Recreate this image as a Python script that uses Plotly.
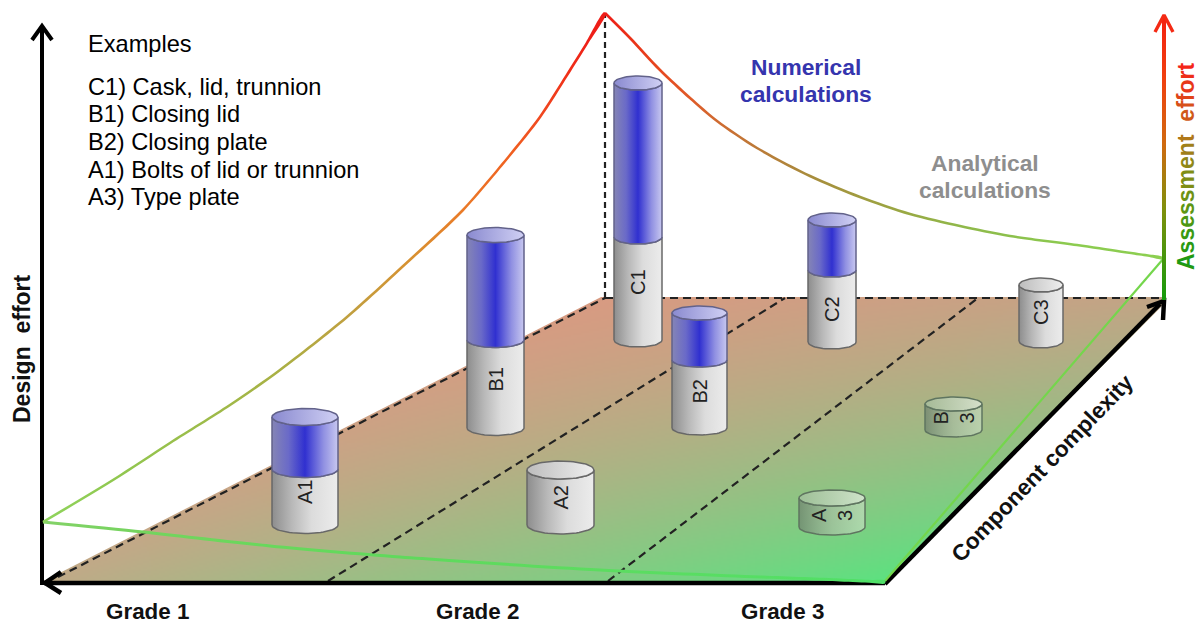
import numpy as np
import plotly.graph_objects as go

# ---- diagram content (in the picture's own units) ----
example_lines = ["Examples", "C1) Cask, lid, trunnion", "B1) Closing lid", "B2) Closing plate",
                 "A1) Bolts of lid or trunnion", "A3) Type plate"]
example_y = [44, 87, 114, 142, 170, 197]

grade_labels = ["Grade 1", "Grade 2", "Grade 3"]
grade_x = [147, 477, 782]

cyl_names = ["A1", "B1", "C1", "B2", "C2", "C3", "A2", "A<br>3", "B<br>3"]
cyl_left = [272, 467, 614, 672, 808, 1019, 527, 799, 925]
cyl_right = [338, 524, 662, 727, 856, 1063, 594, 865, 982]
cyl_top = [417, 235, 83, 313, 220, 285, 470, 498, 404]
cyl_split = [469, 340, 237, 360, 270, None, None, None, None]
cyl_bottom = [525, 428, 340, 428, 342, 341, 525, 527, 430]
cyl_ry = [8.5, 7.5, 7, 7, 7, 7, 9, 8, 7]
cyl_label_y = [492, 380, 282, 392, 309, 312, 498, 515, 418]
cyl_glass = [False, False, False, False, False, False, False, True, True]

design_x = [43, 113, 170, 230, 280, 347, 413, 463, 510, 540, 567, 587, 605]
design_y = [522, 480, 443, 405, 370, 317, 257, 210, 155, 117, 75, 43, 13]
design_c = ["#8fd45c", "#90c850", "#98c04c", "#a0b848", "#aab044", "#c0a040", "#d89030",
            "#ea7a28", "#f06020", "#f04820", "#f03018", "#ee2018", "#ee1c18"]

assess_x = [605, 630, 660, 690, 717, 757, 810, 860, 910, 960, 1010, 1077, 1120, 1148, 1162]
assess_y = [13, 38, 70, 98, 121, 148, 176, 197, 214, 226, 236, 245, 251.5, 255.5, 258]
assess_c = ["#ee1c18", "#ea3018", "#e64820", "#e05a28", "#d06a30", "#bc7a38", "#a88c3c",
            "#a09c40", "#98aa44", "#90b84a", "#8cc04c", "#8ccc50", "#8ccc50", "#8ccf50", "#8ccf50"]

base_x = [43, 143, 270, 400, 600, 760, 840, 872, 885]
base_y = [522, 532, 546, 557, 570, 577, 580, 581.5, 582]
base_c = ["#84d268", "#74d45e", "#68d85c", "#60d95c", "#5cdc60", "#56de64", "#52df66", "#50e068", "#50e068"]

assessment_text = "Assessment\u00a0\u00a0effort"
assessment_c = ["#1f9a12", "#2a9a12", "#3a9a12", "#4c9812", "#5e9612", "#6e9214", "#7f8e14", "#908816",
                "#a08018", "#b07818", "#bc7018", "#c86a18", "#d05a18", "#d85018", "#e04418", "#e83818",
                "#ee2e18", "#f42618"]

fig = go.Figure()

def line(xs, ys, color, width=2, dash=None):
    fig.add_trace(go.Scatter(x=xs, y=ys, mode="lines", hoverinfo="skip", showlegend=False,
                             line=dict(color=color, width=width, dash=dash)))

def ribbon(xs, ys, colors, width):
    """Smooth curve with a colour change along x: a thin spline-edged shape with a horizontal gradient."""
    xs, ys = np.array(xs, float), np.array(ys, float)
    dx, dy = np.gradient(xs), np.gradient(ys)
    n = np.hypot(dx, dy)
    ox, oy = -dy / n * width / 2, dx / n * width / 2
    px = np.r_[xs + ox, (xs - ox)[::-1]]
    py = np.r_[ys + oy, (ys - oy)[::-1]]
    stops = [[float((x - xs[0]) / (xs[-1] - xs[0])), c] for x, c in zip(xs, colors)]
    fig.add_trace(go.Scatter(x=px, y=py, mode="lines", fill="toself", line=dict(width=0, shape="spline", smoothing=0.8),
                             hoverinfo="skip", showlegend=False,
                             fillgradient=dict(type="horizontal", colorscale=stops)))

# ---- floor: bilinear colour wash clipped to the parallelogram by white masks ----
L, R, B, Q = (np.array(c, float) for c in ((192, 170, 136), (92, 226, 128), (216, 155, 130), (182, 170, 136)))
step = 2
gx = np.arange(42, 1166, step)
gy = np.arange(298, 584, step)
X, Y = np.meshgrid(gx, gy)
v = (583 - Y) / 285.0
u = np.clip((X - (42 + v * 563)) / 843.0, 0, 1)
u, v = u[..., None], v[..., None]
rgb = (1 - u) * (1 - v) * L + u * (1 - v) * R + (1 - u) * v * B + u * v * Q
fig.add_trace(go.Image(z=rgb.astype(int).tolist(), x0=42, y0=298, dx=step, dy=step, colormodel="rgb", hoverinfo="skip"))
for px, py in (([38, 38, 607, 38], [294, 584, 294, 294]), ([885, 1170, 1170, 885], [584, 584, 298, 584]),
               ([38, 1170, 1170, 38, 38], [584, 584, 590, 590, 584])):
    fig.add_trace(go.Scatter(x=px, y=py, mode="lines", fill="toself", fillcolor="white", line=dict(width=0),
                             hoverinfo="skip", showlegend=False))

# ---- dashed floor and height guides ----
dash_pat = "8px,5px"
line([58, 605], [577, 298], "#222", 2.2, dash_pat)
line([605, 1163], [298, 298], "#222", 2.2, dash_pat)
line([328, 785], [581, 298], "#222", 2.2, dash_pat)
line([608, 978], [581, 298], "#222", 2.2, dash_pat)
line([605, 605], [298, 13], "#222", 2.2, "6px,4px")

# ---- axes ----
line([42, 42], [585, 26], "black", 4)
line([32, 42, 52], [40, 26, 40], "black", 4)
line([885, 44], [583, 583], "black", 4.5)
line([61, 45, 61], [572, 583, 593], "black", 4.5)
line([885, 1160], [584, 304], "black", 4.5)
line([1147, 1164, 1163], [307, 301, 320], "black", 4.5)

# ---- effort curves ----
line([885, 1164], [581, 258], "#74d64c", 2.2)
ribbon(base_x, base_y, base_c, 3)
ribbon(design_x, design_y, design_c, 2.6)
ribbon(assess_x, assess_y, assess_c, 2.6)

# ---- assessment arrow ----
arrow_scale = [[0, "#149a0c"], [0.32, "#80900c"], [0.55, "#d06a10"], [0.78, "#f04010"], [1, "#f42010"]]
fig.add_trace(go.Scatter(x=[1162, 1166, 1166, 1162, 1162], y=[16, 16, 300, 300, 16], mode="lines", fill="toself",
                         line=dict(width=0), hoverinfo="skip", showlegend=False,
                         fillgradient=dict(type="vertical", colorscale=arrow_scale)))
line([1155, 1164, 1173], [32, 15, 32], "#f42a14", 3.4)

# ---- cylinders ----
GRAY = [[0, "#8d8d8d"], [0.3, "#b8b8b8"], [0.6, "#dcdcdc"], [1, "#ececec"]]
GRAYTOP = [[0, "#bdbdbd"], [1, "#efefef"]]
BLUE = [[0, "#8585b5"], [0.25, "#6a6ac8"], [0.5, "#3030d0"], [0.78, "#9090e2"], [1, "#c8c8f0"]]
BLUETOP = [[0, "#8a8ad0"], [1, "#d0d0f4"]]
GLASS = [[0, "rgba(110,130,110,0.75)"], [0.5, "rgba(170,190,165,0.65)"], [1, "rgba(205,225,200,0.6)"]]
GLASSTOP = [[0, "rgba(165,190,160,0.7)"], [1, "rgba(225,235,220,0.8)"]]
EDGE = "#686868"
BLUEEDGE = "#62628a"
t = np.linspace(0, np.pi, 33)

def body(x0, x1, y0, y1, ry, scale, edge):
    cx, rx = (x0 + x1) / 2, (x1 - x0) / 2
    bx = cx - rx * np.cos(t)
    by = y1 + ry * np.sin(t)
    topx = cx + rx * np.cos(t)
    topy = y0 + ry * np.sin(t)
    xs = np.r_[bx, topx, bx[0]]
    ys = np.r_[by, topy, by[0]]
    fig.add_trace(go.Scatter(x=xs, y=ys, mode="lines", fill="toself", line=dict(color=edge, width=1.5),
                             hoverinfo="skip", showlegend=False, fillgradient=dict(type="horizontal", colorscale=scale)))

def cap(x0, x1, y, ry, scale, edge):
    cx, rx = (x0 + x1) / 2, (x1 - x0) / 2
    a = np.linspace(0, 2 * np.pi, 65)
    fig.add_trace(go.Scatter(x=cx + rx * np.cos(a), y=y + ry * np.sin(a), mode="lines", fill="toself",
                             line=dict(color=edge, width=1.5), hoverinfo="skip", showlegend=False,
                             fillgradient=dict(type="horizontal", colorscale=scale)))

for i in range(len(cyl_names)):
    x0, x1, top, split, bot, ry = cyl_left[i], cyl_right[i], cyl_top[i], cyl_split[i], cyl_bottom[i], cyl_ry[i]
    if cyl_glass[i]:
        body(x0, x1, top, bot, ry, GLASS, "#5f7560")
        cap(x0, x1, top, ry, GLASSTOP, "#5f7560")
    elif split is None:
        body(x0, x1, top, bot, ry, GRAY, EDGE)
        cap(x0, x1, top, ry, GRAYTOP, EDGE)
    else:
        body(x0, x1, split, bot, ry, GRAY, EDGE)
        body(x0, x1, top, split, ry, BLUE, BLUEEDGE)
        cap(x0, x1, top, ry, BLUETOP, BLUEEDGE)

# ---- texts ----
def note(x, y, text, size, color="black", bold=False, angle=0, anchor="center"):
    fig.add_annotation(x=x, y=y, xref="x", yref="y", text=f"<b>{text}</b>" if bold else text, showarrow=False,
                       textangle=angle, xanchor=anchor, yanchor="middle",
                       font=dict(family="Liberation Sans", size=size, color=color), align="center")

for s, y in zip(example_lines, example_y):
    note(86, y, s, 23.6, anchor="left")
for s, x in zip(grade_labels, grade_x):
    note(x, 611.5, s, 22.4, color="#111", bold=True)
for i, name in enumerate(cyl_names):
    note((cyl_left[i] + cyl_right[i]) / 2, cyl_label_y[i], name, 20, color="#222", angle=-90)
note(806, 67, "Numerical", 22.8, color="#3535ae", bold=True)
note(806, 94, "calculations", 22.8, color="#3535ae", bold=True)
note(985, 163, "Analytical", 22.8, color="#8e8e8e", bold=True)
note(985, 190, "calculations", 22.8, color="#8e8e8e", bold=True)
note(22, 349, "Design\u00a0\u00a0effort", 23, color="#111", bold=True, angle=-90)
note(1042, 468, "Component complexity", 22.6, color="#111", bold=True, angle=-46)
spans = "".join(f'<span style="color:{c}">{ch}</span>' for ch, c in zip(assessment_text, assessment_c))
note(1186, 166, spans, 23, bold=True, angle=-90)

fig.update_layout(width=1200, height=625, margin=dict(l=0, r=0, t=0, b=0), paper_bgcolor="white",
                  plot_bgcolor="white", showlegend=False,
                  xaxis=dict(range=[0, 1200], visible=False, fixedrange=True),
                  yaxis=dict(range=[625, 0], visible=False, fixedrange=True))
fig.write_html("out.html", config=dict(displayModeBar=False),
               post_script="document.body.style.margin='0';document.documentElement.style.overflow='hidden';")
